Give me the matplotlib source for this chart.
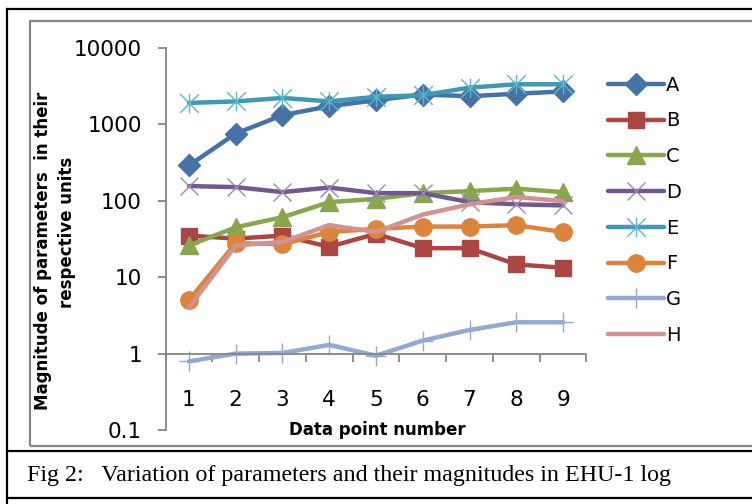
"""Fig 2: variation of parameters in EHU-1 log (log-scale line chart)."""

import matplotlib

matplotlib.use("Agg")
import matplotlib.pyplot as plt
from matplotlib.lines import Line2D
from matplotlib.path import Path
from matplotlib.patches import Rectangle

points = [1, 2, 3, 4, 5, 6, 7, 8, 9]
series_names = ["A", "B", "C", "D", "E", "F", "G", "H"]

a_vals = [290, 760, 1320, 1730, 2070, 2460, 2340, 2520, 2700]
b_vals = [35, 32, 35, 25, 37, 24, 24, 14.7, 13.3]
c_vals = [26, 45, 61, 96, 106, 126, 134, 144, 130]
d_vals = [156, 151, 130, 149, 126, 126, 96, 90, 87]
e_vals = [1910, 2000, 2220, 2000, 2300, 2410, 3030, 3350, 3350]
f_vals = [5.0, 28, 27, 39, 43, 46, 46, 48, 39]
g_vals = [0.79, 1.0, 1.02, 1.3, 0.94, 1.48, 2.04, 2.57, 2.57]
h_vals = [4.0, 26, 29, 48, 39, 66, 90, 112, 99]

y_ticks = [0.1, 1, 10, 100, 1000, 10000]
y_ticklabels = ["0.1", "1", "10", "100", "1000", "10000"]

caption = "Fig 2:   Variation of parameters and their magnitudes in EHU-1 log"

W, H = 752, 504


def fx(x):
    return x / W


def fy(y):
    return 1 - y / H


# Excel-style star: an x with a vertical bar through it
star = Path(
    [(-1, -1), (1, 1), (-1, 1), (1, -1), (0, -1.05), (0, 1.05)],
    [Path.MOVETO, Path.LINETO, Path.MOVETO, Path.LINETO, Path.MOVETO, Path.LINETO],
)

styles = {
    "A": dict(color="#4572A7", marker="D", ms=11, mfc="#4572A7", mec="#4572A7"),
    "B": dict(color="#AA4643", marker="s", ms=12, mfc="#AA4643", mec="#AA4643"),
    "C": dict(color="#89A54E", marker="^", ms=12.5, mfc="#89A54E", mec="#89A54E"),
    "D": dict(color="#71588F", marker="x", ms=13, mec="#9B87B7", mew=1.0),
    "E": dict(color="#4198AF", marker=star, ms=14, mfc="none", mec="#5BB5CC", mew=1.0),
    "F": dict(color="#DB843D", marker="o", ms=12.5, mfc="#DB843D", mec="#DB843D"),
    "G": dict(color="#93A9CF", marker="+", ms=15, mec="#93A9CF", mew=1.0),
    "H": dict(color="#D19392", marker=None),
}

all_vals = [a_vals, b_vals, c_vals, d_vals, e_vals, f_vals, g_vals, h_vals]

fig = plt.figure(figsize=(W / 100, H / 100), dpi=100)
ax = fig.add_axes([fx(165.6), fy(430), (586.4 - 165.6) / W, (430 - 48) / H])

handles = []
for name, vals in zip(series_names, all_vals):
    st = styles[name]
    (ln,) = ax.plot(points, vals, lw=3.2, solid_capstyle="round", label=name, **st)
    handles.append(ln)

ax.set_yscale("log")
ax.set_ylim(0.1, 10000)
ax.set_xlim(0.5, 9.5)
ax.set_yticks(y_ticks)
ax.set_yticklabels(y_ticklabels)
ax.yaxis.set_minor_locator(matplotlib.ticker.NullLocator())
ax.set_xticks(points)
ax.set_xticks([p - 0.5 for p in points] + [9.5], minor=True)

axis_gray = "#868686"
for side in ["top", "right"]:
    ax.spines[side].set_visible(False)
ax.spines["left"].set_color(axis_gray)
ax.spines["left"].set_linewidth(1.3)
ax.spines["bottom"].set_position(("data", 1))
ax.spines["bottom"].set_color(axis_gray)
ax.spines["bottom"].set_linewidth(1.3)

ax.tick_params(axis="y", which="major", length=6, width=1.3, color=axis_gray, pad=11)
ax.tick_params(axis="x", which="major", length=0, pad=26)
ax.tick_params(axis="x", which="minor", length=6, width=1.3, color=axis_gray)
for lab in ax.get_yticklabels() + ax.get_xticklabels():
    lab.set_fontfamily("DejaVu Sans")
    lab.set_fontsize(15.5)

fig.text(fx(377), fy(430), "Data point number", ha="center", va="center",
         family="DejaVu Sans", weight="bold", size=12)
fig.text(fx(43), fy(251), "Magnitude of parameters  in their", rotation=90,
         ha="center", va="center", family="DejaVu Sans", weight="bold", size=12)
fig.text(fx(67), fy(232), "respective units", rotation=90,
         ha="center", va="center", family="DejaVu Sans", weight="bold", size=12)

leg = ax.legend(handles=handles, loc="upper left", bbox_to_anchor=(fx(598), fy(66)),
                bbox_transform=fig.transFigure, frameon=False, borderpad=0,
                handlelength=2.9, handletextpad=0.1, labelspacing=0.86,
                prop=dict(family="DejaVu Sans", size=14))

# chart area frame and the table cell lines round it
fig.add_artist(Rectangle((fx(30), fy(446)), fx(760) - fx(30), fy(21) - fy(446),
                         transform=fig.transFigure, fill=False, ec=axis_gray, lw=1.6))
for y in [9, 451, 498]:
    fig.add_artist(Line2D([fx(7), 1], [fy(y), fy(y)], transform=fig.transFigure,
                          color="black", lw=1.6))
fig.add_artist(Line2D([fx(7), fx(7)], [fy(9), 0], transform=fig.transFigure,
                      color="black", lw=1.6))

fig.text(fx(27), fy(475), caption, ha="left", va="center",
         family="Liberation Serif", size=17.3)

fig.savefig("out.png", dpi=100)
